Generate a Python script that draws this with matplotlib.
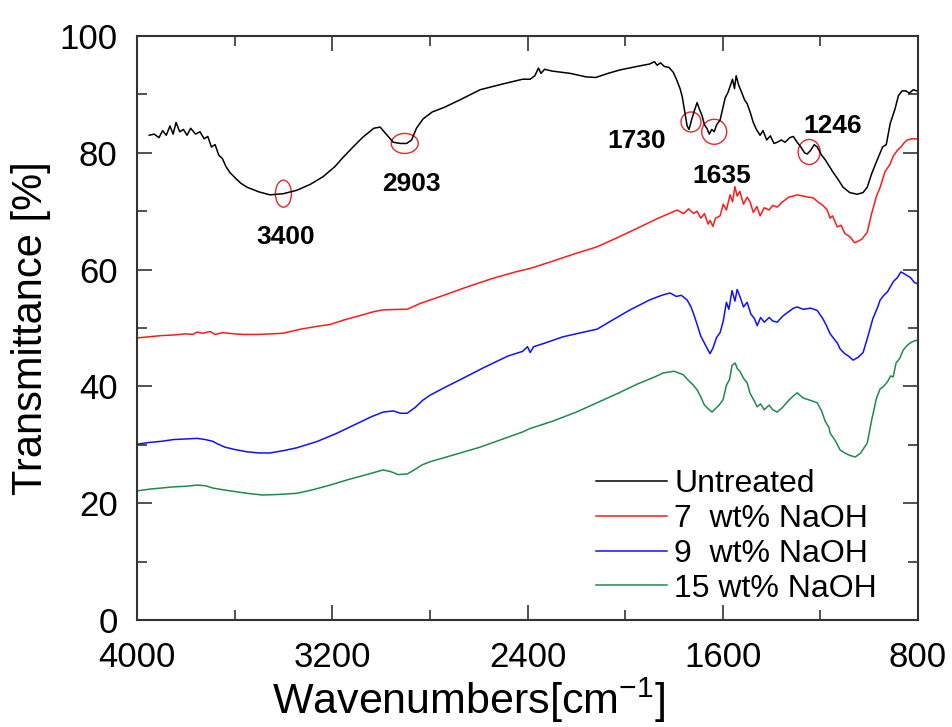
import numpy as np
import matplotlib
matplotlib.use("Agg")
import matplotlib.pyplot as plt
from matplotlib.patches import Ellipse

plt.rcParams["font.family"] = ["Liberation Sans", "DejaVu Sans"]
plt.rcParams["mathtext.fontset"] = "custom"
plt.rcParams["mathtext.rm"] = "Liberation Sans"
plt.rcParams["mathtext.default"] = "regular"

# untreated
black_wn = [3950, 3930, 3910, 3895, 3880, 3865, 3852, 3840, 3825, 3810, 3795, 3780, 3760, 3742,
            3725, 3710, 3695, 3680, 3665, 3650, 3635, 3619, 3600, 3575, 3549, 3500, 3455, 3400,
            3344, 3290, 3238, 3190, 3156, 3110, 3074, 3030, 3004, 2975, 2950, 2920, 2895, 2875,
            2855, 2828, 2790, 2740, 2680, 2594, 2500, 2420, 2389, 2370, 2355, 2345, 2330, 2300,
            2225, 2160, 2120, 2070, 2020, 1950, 1900, 1880, 1869, 1855, 1840, 1820, 1803, 1790,
            1775, 1766, 1755, 1746, 1738, 1728, 1718, 1705, 1695, 1685, 1675, 1665, 1655, 1645,
            1635, 1625, 1611, 1600, 1590, 1578, 1570, 1560, 1552, 1545, 1535, 1525, 1510, 1500,
            1488, 1475, 1462, 1447, 1435, 1420, 1405, 1390, 1377, 1360, 1345, 1325, 1311, 1295,
            1280, 1265, 1254, 1240, 1225, 1213, 1195, 1180, 1165, 1150, 1130, 1107, 1080, 1049,
            1025, 1008, 990, 967, 945, 930, 914, 895, 880, 865, 850, 835, 820, 805]
black_t = [83.0, 83.2, 82.6, 83.8, 83.0, 84.6, 83.2, 85.2, 83.6, 84.0, 83.0, 84.2, 83.2, 83.6,
           82.4, 82.8, 81.0, 81.4, 79.6, 79.0, 77.6, 76.6, 75.8, 74.8, 74.1, 73.3, 72.8, 73.0,
           73.6, 74.6, 75.9, 77.6, 79.2, 81.2, 82.7, 84.2, 84.4, 83.0, 81.8, 81.6, 81.6, 82.2,
           84.2, 85.8, 87.0, 87.8, 89.0, 90.8, 91.8, 92.6, 92.6, 93.2, 94.5, 93.6, 94.3, 94.0,
           93.6, 93.0, 92.9, 93.6, 94.2, 94.8, 95.2, 95.6, 95.0, 95.4, 94.8, 94.6, 93.8, 92.6,
           91.0, 89.6, 86.8, 84.6, 84.0, 85.6, 87.0, 88.6, 87.4, 86.4, 84.8, 84.2, 83.2, 84.0,
           83.6, 84.8, 85.6, 87.6, 89.4, 90.4, 91.4, 92.6, 91.0, 93.2, 91.6, 90.6, 89.0, 88.4,
           87.0, 85.2, 84.0, 83.0, 83.8, 82.2, 82.9, 81.6, 81.8, 82.2, 81.8, 82.6, 82.8, 81.8,
           81.0, 80.0, 79.8, 80.4, 81.4, 81.0, 79.6, 78.8, 77.8, 76.8, 75.6, 74.1, 73.2, 72.9,
           73.2, 74.1, 76.4, 78.8, 81.0, 81.4, 85.0, 87.4, 89.8, 90.6, 90.6, 90.2, 90.8, 90.6]

# 7 wt% NaOH
red_wn = [4000, 3950, 3900, 3850, 3800, 3770, 3754, 3730, 3700, 3680, 3650, 3600, 3566, 3500,
          3450, 3402, 3330, 3260, 3209, 3150, 3080, 3030, 2992, 2920, 2893, 2840, 2750, 2650,
          2550, 2450, 2389, 2300, 2200, 2115, 2030, 1939, 1870, 1820, 1787, 1760, 1740, 1720,
          1705, 1690, 1675, 1660, 1652, 1640, 1630, 1611, 1598, 1585, 1570, 1560, 1550, 1541,
          1530, 1515, 1500, 1488, 1475, 1460, 1447, 1430, 1410, 1395, 1377, 1355, 1330, 1310,
          1295, 1270, 1250, 1230, 1210, 1190, 1172, 1160, 1150, 1131, 1115, 1100, 1078, 1060,
          1049, 1030, 1008, 990, 970, 955, 935, 915, 902, 885, 870, 855, 844, 825, 803]
red_t = [48.3, 48.5, 48.7, 48.8, 49.0, 48.9, 49.3, 49.1, 49.4, 48.9, 49.2, 49.0, 48.9, 48.9,
         49.0, 49.1, 49.8, 50.3, 50.6, 51.4, 52.2, 52.8, 53.1, 53.2, 53.2, 54.2, 55.5, 57.0,
         58.4, 59.6, 60.2, 61.4, 62.8, 63.9, 65.5, 67.3, 68.7, 69.6, 70.2, 69.6, 70.4, 69.6,
         70.0, 68.8, 69.6, 67.8, 68.4, 67.4, 68.8, 69.2, 71.2, 70.2, 72.8, 71.6, 74.2, 72.6,
         73.4, 71.2, 72.4, 71.6, 69.8, 70.8, 69.2, 70.6, 70.2, 71.0, 70.7, 71.6, 72.4, 72.6,
         72.8, 72.6, 72.4, 72.3, 71.6, 71.0, 70.2, 68.8, 69.2, 67.3, 67.6, 66.2, 65.6, 64.6,
         64.8, 65.2, 66.4, 69.6, 72.6, 74.1, 76.8, 78.0, 79.4, 80.4, 81.0, 81.8, 82.2, 82.4, 82.4]

# 9 wt% NaOH
blue_wn = [4000, 3950, 3900, 3850, 3800, 3754, 3720, 3690, 3672, 3640, 3600, 3549, 3500, 3455,
           3400, 3344, 3260, 3180, 3100, 3040, 2992, 2950, 2920, 2893, 2860, 2830, 2799, 2740,
           2664, 2580, 2480, 2420, 2400, 2389, 2375, 2330, 2254, 2180, 2115, 2050, 1980, 1900,
           1850, 1816, 1790, 1770, 1746, 1730, 1721, 1705, 1690, 1675, 1660, 1652, 1640, 1625,
           1611, 1598, 1585, 1575, 1562, 1550, 1541, 1528, 1515, 1500, 1485, 1470, 1459, 1445,
           1430, 1410, 1395, 1377, 1355, 1330, 1310, 1295, 1270, 1240, 1213, 1190, 1175, 1160,
           1145, 1130, 1119, 1100, 1085, 1066, 1045, 1025, 1005, 985, 965, 955, 940, 925, 914,
           900, 885, 870, 861, 845, 830, 815, 803]
blue_t = [30.1, 30.4, 30.6, 30.9, 31.0, 31.1, 30.9, 30.6, 30.2, 29.6, 29.2, 28.8, 28.6, 28.6,
          29.0, 29.5, 30.6, 32.0, 33.6, 34.8, 35.6, 35.8, 35.4, 35.4, 36.4, 37.6, 38.5, 39.8,
          41.4, 43.2, 45.2, 46.0, 46.8, 45.8, 46.8, 47.4, 48.5, 49.2, 49.8, 51.4, 53.1, 54.8,
          55.6, 56.0, 55.4, 55.6, 54.8, 53.6, 52.6, 50.6, 48.6, 47.4, 46.2, 45.6, 46.6, 48.4,
          49.2, 51.2, 54.4, 53.2, 56.4, 54.6, 56.6, 55.2, 53.6, 54.4, 52.4, 51.6, 50.4, 51.8,
          51.0, 51.8, 51.2, 51.0, 52.0, 52.8, 53.4, 53.6, 53.2, 53.4, 53.0, 51.6, 50.4, 49.0,
          48.2, 47.4, 46.4, 45.6, 45.2, 44.5, 45.0, 45.8, 48.6, 51.6, 53.6, 54.8, 55.6, 56.2, 57.0,
          58.0, 58.6, 59.6, 59.4, 59.0, 58.6, 57.8, 57.6]

# 15 wt% NaOH
green_wn = [4000, 3950, 3900, 3850, 3800, 3754, 3720, 3690, 3648, 3600, 3550, 3484, 3420, 3344,
            3280, 3209, 3130, 3050, 2992, 2960, 2930, 2893, 2860, 2830, 2799, 2700, 2594, 2500,
            2420, 2389, 2300, 2200, 2115, 2030, 1950, 1880, 1844, 1800, 1762, 1740, 1720, 1705,
            1690, 1675, 1660, 1644, 1630, 1615, 1599, 1585, 1572, 1562, 1549, 1540, 1530, 1515,
            1500, 1488, 1472, 1459, 1445, 1430, 1410, 1395, 1377, 1355, 1330, 1310, 1295, 1270,
            1240, 1213, 1195, 1180, 1165, 1160, 1140, 1119, 1100, 1080, 1057, 1035, 1008, 990,
            970, 955, 943, 925, 912, 902, 890, 875, 861, 845, 830, 815, 803]
green_t = [22.1, 22.4, 22.6, 22.8, 22.9, 23.1, 23.0, 22.6, 22.3, 22.0, 21.7, 21.4, 21.5, 21.7,
           22.3, 23.1, 24.1, 25.0, 25.7, 25.4, 24.9, 25.0, 25.8, 26.6, 27.1, 28.3, 29.6, 31.0,
           32.2, 32.8, 34.0, 35.6, 37.2, 38.8, 40.4, 41.6, 42.3, 42.6, 42.0, 41.0, 40.2, 39.4,
           38.2, 36.8, 36.2, 35.6, 36.2, 36.8, 37.7, 40.2, 41.2, 43.6, 44.0, 43.0, 42.6, 41.4,
           40.6, 38.8, 37.6, 36.5, 37.0, 36.0, 36.8, 36.0, 35.6, 36.4, 37.6, 38.4, 38.9, 38.0,
           37.6, 37.2, 35.8, 34.0, 33.0, 32.0, 30.8, 29.1, 28.6, 28.2, 27.9, 28.6, 30.3, 34.2,
           38.0, 39.6, 39.9, 40.8, 41.8, 41.6, 44.0, 44.8, 46.2, 47.0, 47.5, 47.8, 47.9]

series_labels = ["Untreated", "7  wt% NaOH", "9  wt% NaOH", "15 wt% NaOH"]
series_colors = ["black", "#ff1a1a", "#1010ff", "#1e8a4e"]

peak_wn = [3400, 2903, 1730, 1635, 1246]
peak_text = ["3400", "2903", "1730", "1635", "1246"]

fig = plt.figure(figsize=(9.53, 7.27), dpi=100)
ax = fig.add_axes([137 / 953, 107 / 727, 781 / 953, 584 / 727])

all_wn = [black_wn, red_wn, blue_wn, green_wn]
all_t = [black_t, red_t, blue_t, green_t]
for wn, t, lab, col in zip(all_wn, all_t, series_labels, series_colors):
    ax.plot(wn, t, color=col, lw=1.1, label=lab)

ax.set_xlim(4000, 800)
ax.set_ylim(0, 100)
ax.set_xticks([4000, 3200, 2400, 1600, 800])
ax.set_xticks(np.arange(800, 4001, 400), minor=True)
ax.set_yticks(np.arange(0, 101, 20))
ax.set_yticks(np.arange(0, 101, 10), minor=True)
ax.tick_params(which="both", direction="in", top=True, right=True, width=1.2, color="#333333")
ax.tick_params(which="major", length=11, labelsize=25)
ax.tick_params(axis="x", which="major", pad=15)
ax.tick_params(axis="y", which="major", pad=14)
ax.tick_params(which="minor", length=7)
for s in ax.spines.values():
    s.set_linewidth(1.5)
    s.set_color("#333333")

ax.set_xlabel("Wavenumbers[cm$^{-1}$]", fontsize=31)
ax.xaxis.set_label_coords(0.425, -0.095)
ax.set_ylabel("Transmittance [%]", fontsize=30)
ax.yaxis.set_label_coords(-0.11, 0.5)

# red circles on the untreated spectrum + labels
circ_px = [(16, 27), (27, 20), (20, 20), (25, 25), (22, 25)]
text_off = [(2, -43), (7, -41), (-54, -19), (8, -44), (24, 26)]
bw = np.array(black_wn[::-1])
bt = np.array(black_t[::-1])
for p, txt, (w, h), (dx, dy) in zip(peak_wn, peak_text, circ_px, text_off):
    yy = np.interp(p, bw, bt)
    ax.add_patch(Ellipse((p, yy), w * 3200 / 781, h * 100 / 584, fill=False,
                         edgecolor="#e8262c", lw=1.0))
    ax.annotate(txt, xy=(p, yy), xytext=(dx * 0.72, dy * 0.72), textcoords="offset points",
                ha="center", va="center", fontsize=19, fontweight="bold")

ax.legend(loc="lower left", bbox_to_anchor=(0.588, 0.028), frameon=False, fontsize=23,
          handlelength=2.2, handletextpad=0.25, labelspacing=0.15, borderpad=0, borderaxespad=0)

fig.savefig("out.png", dpi=100)
